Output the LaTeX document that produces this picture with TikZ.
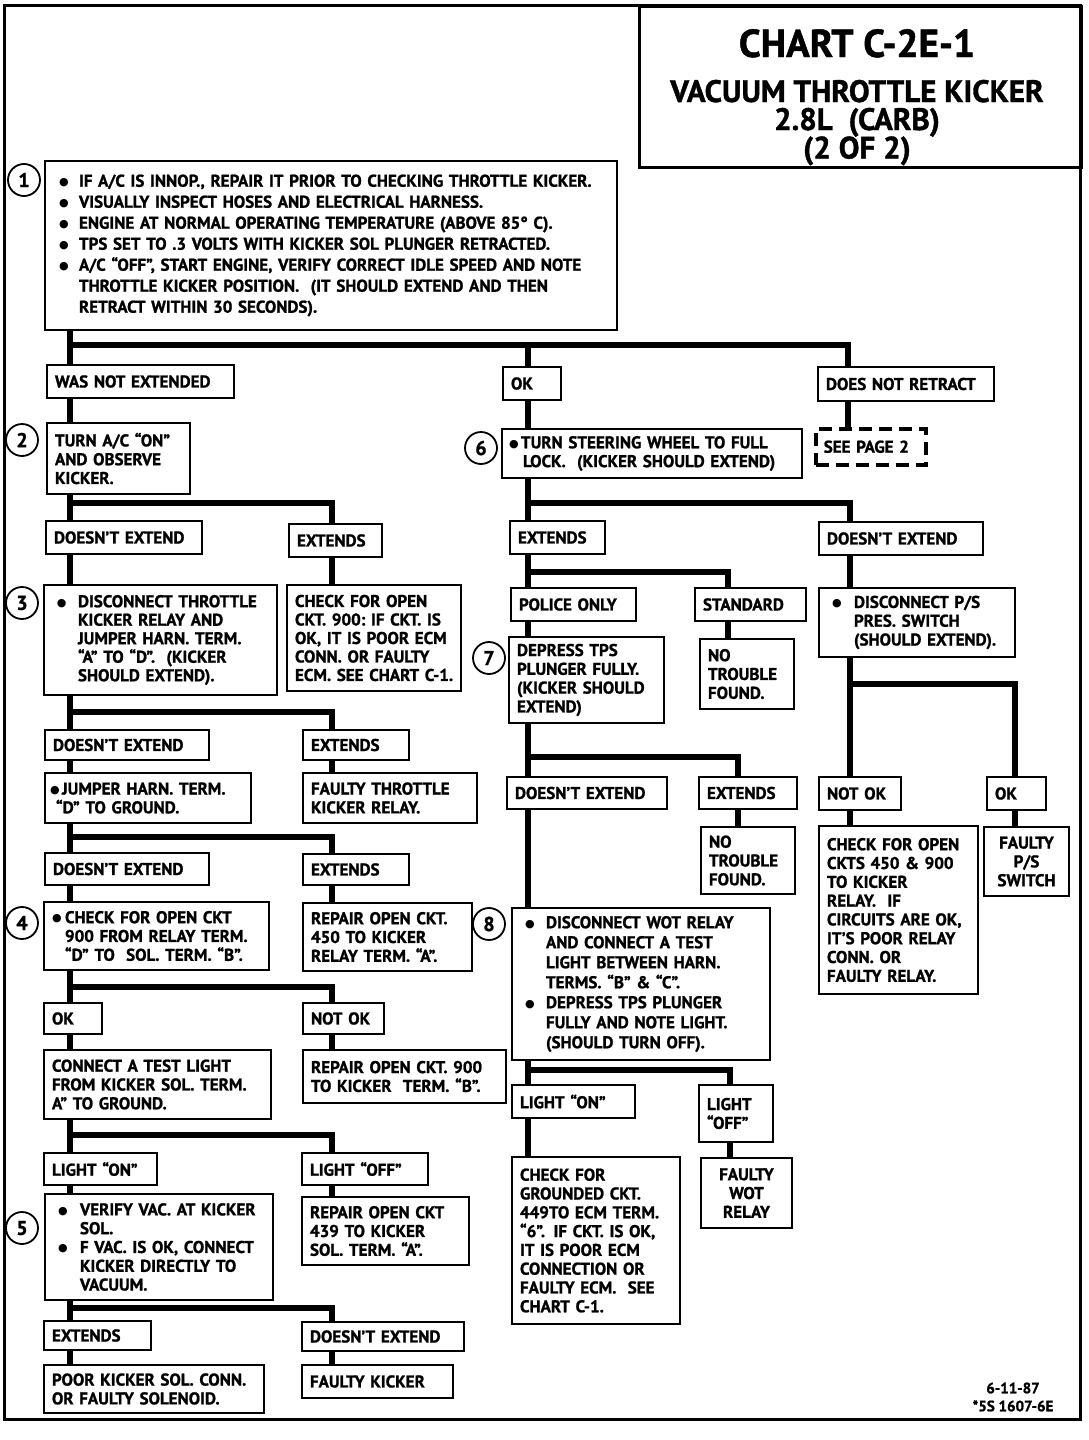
\documentclass[tikz,border=0pt]{standalone}
\usepackage{fontspec}
\setmainfont{PT Sans}[BoldFeatures={FakeBold=1.2}]
\newfontfamily\dvs{DejaVu Sans}
\newcommand\bxf[1]{\fontsize{17}{#1}\selectfont\bfseries}
\newcommand\bdot{\raisebox{1.2pt}{\dvs\fontsize{11}{11}\selectfont ●}}
\newcommand\bl[2][5pt]{\makebox[#2][l]{\hspace*{#1}\bdot}}
\newcommand\mkbox[7][]{%
  \pgfmathsetmacro\bw{#5-#3}%
  \pgfmathsetmacro\bh{#6-#4}%
  \pgfmathsetmacro\tw{#5-#3-16}%
  \node[box,minimum width=\bw pt,minimum height=\bh pt,text width=\tw pt,anchor=north west,#1] (#2) at (#3,#4) {#7};}
\tikzset{
  box/.style={draw, line width=2pt, inner xsep=8pt, inner ysep=0pt, align=left, font=\bxf{18.8}},
  seebox/.style={line width=3.5pt, dash pattern=on 13pt off 7pt},
  conn/.style={line width=5.5pt, line cap=butt},
  num/.style={draw, circle, line width=1.8pt, minimum size=32pt, inner sep=0pt, font=\fontsize{20}{20}\selectfont\bfseries},
  ttl/.style={font=\fontsize{#1}{#1}\selectfont\bfseries, inner sep=0pt, anchor=base},
}
\begin{document}
\begin{tikzpicture}[x=1pt,y=-1pt]
\useasboundingbox (0,0) rectangle (1088,1440);
\draw[line width=3pt] (4,5) rectangle (1080,1419);
\node[draw, line width=3pt, minimum width=442pt, minimum height=161pt, anchor=north west, inner sep=0pt] (tbox) at (638,5) {};
\node[ttl=39] (t1) at (857,57) {CHART C-2E-1};
\node[ttl=31] (t2) at (857,102) {VACUUM THROTTLE KICKER};
\node[ttl=31] (t3) at (857,130) {2.8L\ \ (CARB)};
\node[ttl=31] (t4) at (857,158.5) {(2 OF 2)};
% trunk x positions and junction heights
\coordinate (xL) at (70,0); \coordinate (xR) at (332,0);
\coordinate (xM) at (528,0); \coordinate (xS) at (728,0);
\coordinate (xE) at (738,0); \coordinate (xW) at (730,0);
\coordinate (xN) at (848,0); \coordinate (xP) at (850,0);
\coordinate (xQ) at (1015,0);
\coordinate (h0) at (0,345); \coordinate (h2) at (0,503);
\coordinate (h3) at (0,712); \coordinate (h4) at (0,837);
\coordinate (h5) at (0,987); \coordinate (h6) at (0,1135);
\coordinate (h7) at (0,1308);
\coordinate (hm1) at (0,503); \coordinate (hm2) at (0,572);
\coordinate (hm3) at (0,757); \coordinate (hm4) at (0,1070);
\coordinate (hr1) at (0,684);
% numbered circles
\node[num] (n1) at (24,180) {1};
\node[num] (n2) at (22,440) {2};
\node[num] (n3) at (22,603) {3};
\node[num] (n4) at (22,923) {4};
\node[num] (n5) at (22,1228) {5};
\node[num] (n6) at (481,448) {6};
\node[num] (n7) at (489,658) {7};
\node[num] (n8) at (489,924) {8};
% left column
\mkbox[font=\bxf{21}]{b1}{44}{160}{616}{329}{%
\mbox{\bl[6pt]{26pt}IF A/C IS INNOP., REPAIR IT PRIOR TO CHECKING THROTTLE KICKER.}\\
\mbox{\bl[6pt]{26pt}VISUALLY INSPECT HOSES AND ELECTRICAL HARNESS.}\\
\mbox{\bl[6pt]{26pt}ENGINE AT NORMAL OPERATING TEMPERATURE (ABOVE 85° C).}\\
\mbox{\bl[6pt]{26pt}TPS SET TO .3 VOLTS WITH KICKER SOL PLUNGER RETRACTED.}\\
\mbox{\bl[6pt]{26pt}A/C “OFF”, START ENGINE, VERIFY CORRECT IDLE SPEED AND NOTE}\\
\mbox{\hspace*{26pt}THROTTLE KICKER POSITION.\ \ (IT SHOULD EXTEND AND THEN}\\
\mbox{\hspace*{26pt}RETRACT WITHIN 30 SECONDS).}}
\mkbox{wne}{46}{364}{233}{397}{\mbox{WAS NOT EXTENDED}}
\mkbox{okA}{502}{366}{560}{399}{\mbox{OK}}
\mkbox{dnr}{817}{366}{993}{400}{\mbox{DOES NOT RETRACT}}
\mkbox[seebox]{see}{814}{427}{924}{463}{\mbox{SEE PAGE 2}}
\mkbox{b2}{46}{422}{189}{493}{\mbox{TURN A/C “ON”}\\\mbox{AND OBSERVE}\\\mbox{KICKER.}}
\mkbox{de1}{45}{520}{201}{553}{\mbox{DOESN'T EXTEND}}
\mkbox{ex1}{288}{523}{381}{556}{\mbox{EXTENDS}}
\mkbox[font=\bxf{18.5}]{b3}{43}{584}{276}{694}{%
\mbox{\bl{26pt}DISCONNECT THROTTLE}\\
\mbox{\hspace*{26pt}KICKER RELAY AND}\\
\mbox{\hspace*{26pt}JUMPER HARN. TERM.}\\
\mbox{\hspace*{26pt}“A” TO “D”.\ \ (KICKER}\\
\mbox{\hspace*{26pt}SHOULD EXTEND).}}
\mkbox[font=\bxf{18.5}]{chk1}{286}{584}{460}{690}{%
\mbox{CHECK FOR OPEN}\\\mbox{CKT. 900:\ IF CKT. IS}\\\mbox{OK, IT IS POOR ECM}\\\mbox{CONN. OR FAULTY}\\\mbox{ECM. SEE CHART C-1.}}
\mkbox{de2}{44}{729}{208}{759}{\mbox{DOESN'T EXTEND}}
\mkbox{ex2}{302}{729}{408}{759}{\mbox{EXTENDS}}
\mkbox{jmp}{44}{772}{250}{822}{\mbox{\bl[-3pt]{9pt}JUMPER HARN. TERM.}\\\mbox{\hspace*{3pt}“D” TO GROUND.}}
\mkbox{fty}{302}{772}{476}{822}{\mbox{FAULTY THROTTLE}\\\mbox{KICKER RELAY.}}
\mkbox{de3}{44}{852}{208}{884}{\mbox{DOESN'T EXTEND}}
\mkbox{ex3}{302}{853}{408}{884}{\mbox{EXTENDS}}
\mkbox{b4}{43}{901}{268}{969}{\mbox{\bl[0pt]{13pt}CHECK FOR OPEN CKT}\\\mbox{\hspace*{13pt}900 FROM RELAY TERM.}\\\mbox{\hspace*{13pt}“D” TO\ \ SOL. TERM. “B”.}}
\mkbox{rep450}{302}{902}{471}{970}{\mbox{REPAIR OPEN CKT.}\\\mbox{450 TO KICKER}\\\mbox{RELAY TERM. “A”.}}
\mkbox{ok4}{43}{1002}{101}{1033}{\mbox{OK}}
\mkbox{nok4}{302}{1002}{383}{1033}{\mbox{NOT OK}}
\mkbox{cta}{43}{1049}{270}{1118}{\mbox{CONNECT A TEST LIGHT}\\\mbox{FROM KICKER SOL. TERM.}\\\mbox{A” TO GROUND.}}
\mkbox{rep900}{302}{1049}{505}{1102}{\mbox{REPAIR OPEN CKT. 900}\\\mbox{TO KICKER\ \ TERM. “B”.}}
\mkbox{lon5}{43}{1152}{156}{1184}{\mbox{LIGHT “ON”}}
\mkbox{loff5}{301}{1152}{427}{1184}{\mbox{LIGHT “OFF”}}
\mkbox{b5}{44}{1193}{272}{1299}{%
\mbox{\bl{27pt}VERIFY VAC. AT KICKER}\\
\mbox{\hspace*{27pt}SOL.}\\
\mbox{\bl{27pt}F VAC. IS OK, CONNECT}\\
\mbox{\hspace*{27pt}KICKER DIRECTLY TO}\\
\mbox{\hspace*{27pt}VACUUM.}}
\mkbox{rep439}{301}{1196}{468}{1264}{\mbox{REPAIR OPEN CKT}\\\mbox{439 TO KICKER}\\\mbox{SOL. TERM. “A”.}}
\mkbox{ex5}{43}{1320}{150}{1349}{\mbox{EXTENDS}}
\mkbox{de5}{301}{1321}{463}{1350}{\mbox{DOESN'T EXTEND}}
\mkbox{poor}{43}{1364}{263}{1412}{\mbox{POOR KICKER SOL. CONN.}\\\mbox{OR FAULTY SOLENOID.}}
\mkbox{fk}{301}{1364}{452}{1397}{\mbox{FAULTY KICKER}}
% middle column
\mkbox{b6}{501}{428}{801}{477}{\mbox{\bl[-1pt]{11pt}TURN STEERING WHEEL TO FULL}\\\mbox{\hspace*{13pt}LOCK.\ \ (KICKER SHOULD EXTEND)}}
\mkbox{ex6}{509}{520}{604}{553}{\mbox{EXTENDS}}
\mkbox{pol}{510}{587}{635}{620}{\mbox{POLICE ONLY}}
\mkbox{std}{694}{587}{805}{620}{\mbox{STANDARD}}
\mkbox{b7}{508}{636}{663}{722}{\mbox{DEPRESS TPS}\\\mbox{PLUNGER FULLY.}\\\mbox{(KICKER SHOULD}\\\mbox{EXTEND)}}
\mkbox{ntf1}{699}{638}{793}{708}{\mbox{NO}\\\mbox{TROUBLE}\\\mbox{FOUND.}}
\mkbox{de7}{506}{776}{666}{808}{\mbox{DOESN'T EXTEND}}
\mkbox{ex7}{698}{776}{796}{808}{\mbox{EXTENDS}}
\mkbox{ntf2}{700}{826}{794}{893}{\mbox{NO}\\\mbox{TROUBLE}\\\mbox{FOUND.}}
\mkbox[font=\bxf{20}]{b8}{511}{907}{769}{1059}{%
\mbox{\bl{26pt}DISCONNECT WOT RELAY}\\
\mbox{\hspace*{26pt}AND CONNECT A TEST}\\
\mbox{\hspace*{26pt}LIGHT BETWEEN HARN.}\\
\mbox{\hspace*{26pt}TERMS. “B” \& “C”.}\\
\mbox{\bl{26pt}DEPRESS TPS PLUNGER}\\
\mbox{\hspace*{26pt}FULLY AND NOTE LIGHT.}\\
\mbox{\hspace*{26pt}(SHOULD TURN OFF).}}
\mkbox{lon8}{511}{1084}{634}{1117}{\mbox{LIGHT “ON”}}
\mkbox{loff8}{698}{1084}{772}{1141}{\mbox{LIGHT}\\\mbox{“OFF”}}
\mkbox{cgr}{511}{1156}{679}{1323}{%
\mbox{CHECK FOR}\\\mbox{GROUNDED CKT.}\\\mbox{449TO ECM TERM.}\\\mbox{“6”. IF CKT. IS OK,}\\\mbox{IT IS POOR ECM}\\\mbox{CONNECTION OR}\\\mbox{FAULTY ECM.\ \ SEE}\\\mbox{CHART C-1.}}
\mkbox[align=center]{fwot}{700}{1157}{791}{1227}{\mbox{FAULTY}\\\mbox{WOT}\\\mbox{RELAY}}
% right column
\mkbox{de6}{818}{521}{982}{554}{\mbox{DOESN'T EXTEND}}
\mkbox{ps}{818}{587}{1014}{656}{\mbox{\bl{27pt}DISCONNECT P/S}\\\mbox{\hspace*{27pt}PRES. SWITCH}\\\mbox{\hspace*{27pt}(SHOULD EXTEND).}}
\mkbox{nok6}{818}{776}{900}{809}{\mbox{NOT OK}}
\mkbox{ok6}{986}{776}{1045}{809}{\mbox{OK}}
\mkbox{cckt}{818}{825}{977}{993}{%
\mbox{CHECK FOR OPEN}\\\mbox{CKTS 450 \& 900}\\\mbox{TO KICKER}\\\mbox{RELAY.\ \ IF}\\\mbox{CIRCUITS ARE OK,}\\\mbox{IT'S POOR RELAY}\\\mbox{CONN. OR}\\\mbox{FAULTY RELAY.}}
\mkbox[align=center]{fps}{983}{826}{1068}{895}{\mbox{FAULTY}\\\mbox{P/S}\\\mbox{SWITCH}}
% footer
\node[font=\fontsize{15}{18}\selectfont\bfseries, align=center, inner sep=0pt] (foot) at (1013,1397) {6-11-87\\*5S 1607-6E};
% connectors: left column
\draw[conn] (b1.south -| xL) -- (wne.north -| xL);
\draw[conn] (xL |- h0) -| (dnr.north -| xN);
\draw[conn] (xM |- h0) -- (okA.north -| xM);
\draw[conn] (dnr.south -| xN) -- (see.north -| xN);
\draw[conn] (wne.south -| xL) -- (b2.north -| xL);
\draw[conn] (b2.south -| xL) -- (de1.north -| xL);
\draw[conn] (xL |- h2) -| (ex1.north -| xR);
\draw[conn] (de1.south -| xL) -- (b3.north -| xL);
\draw[conn] (ex1.south -| xR) -- (chk1.north -| xR);
\draw[conn] (b3.south -| xL) -- (de2.north -| xL);
\draw[conn] (xL |- h3) -| (ex2.north -| xR);
\draw[conn] (de2.south -| xL) -- (jmp.north -| xL);
\draw[conn] (ex2.south -| xR) -- (fty.north -| xR);
\draw[conn] (jmp.south -| xL) -- (de3.north -| xL);
\draw[conn] (xL |- h4) -| (ex3.north -| xR);
\draw[conn] (de3.south -| xL) -- (b4.north -| xL);
\draw[conn] (ex3.south -| xR) -- (rep450.north -| xR);
\draw[conn] (b4.south -| xL) -- (ok4.north -| xL);
\draw[conn] (xL |- h5) -| (nok4.north -| xR);
\draw[conn] (ok4.south -| xL) -- (cta.north -| xL);
\draw[conn] (nok4.south -| xR) -- (rep900.north -| xR);
\draw[conn] (cta.south -| xL) -- (lon5.north -| xL);
\draw[conn] (xL |- h6) -| (loff5.north -| xR);
\draw[conn] (lon5.south -| xL) -- (b5.north -| xL);
\draw[conn] (loff5.south -| xR) -- (rep439.north -| xR);
\draw[conn] (b5.south -| xL) -- (ex5.north -| xL);
\draw[conn] (xL |- h7) -| (de5.north -| xR);
\draw[conn] (ex5.south -| xL) -- (poor.north -| xL);
\draw[conn] (de5.south -| xR) -- (fk.north -| xR);
% connectors: middle column
\draw[conn] (okA.south -| xM) -- (b6.north -| xM);
\draw[conn] (b6.south -| xM) -- (ex6.north -| xM);
\draw[conn] (xM |- hm1) -| (de6.north -| xP);
\draw[conn] (ex6.south -| xM) -- (pol.north -| xM);
\draw[conn] (xM |- hm2) -| (std.north -| xS);
\draw[conn] (pol.south -| xM) -- (b7.north -| xM);
\draw[conn] (std.south -| xS) -- (ntf1.north -| xS);
\draw[conn] (b7.south -| xM) -- (de7.north -| xM);
\draw[conn] (xM |- hm3) -| (ex7.north -| xE);
\draw[conn] (ex7.south -| xE) -- (ntf2.north -| xE);
\draw[conn] (de7.south -| xM) -- (b8.north -| xM);
\draw[conn] (b8.south -| xM) -- (lon8.north -| xM);
\draw[conn] (xM |- hm4) -| (loff8.north -| xW);
\draw[conn] (lon8.south -| xM) -- (cgr.north -| xM);
\draw[conn] (loff8.south -| xW) -- (fwot.north -| xW);
% connectors: right column
\draw[conn] (de6.south -| xP) -- (ps.north -| xP);
\draw[conn] (ps.south -| xP) -- (nok6.north -| xP);
\draw[conn] (xP |- hr1) -| (ok6.north -| xQ);
\draw[conn] (nok6.south -| xP) -- (cckt.north -| xP);
\draw[conn] (ok6.south -| xQ) -- (fps.north -| xQ);
\end{tikzpicture}
\end{document}
